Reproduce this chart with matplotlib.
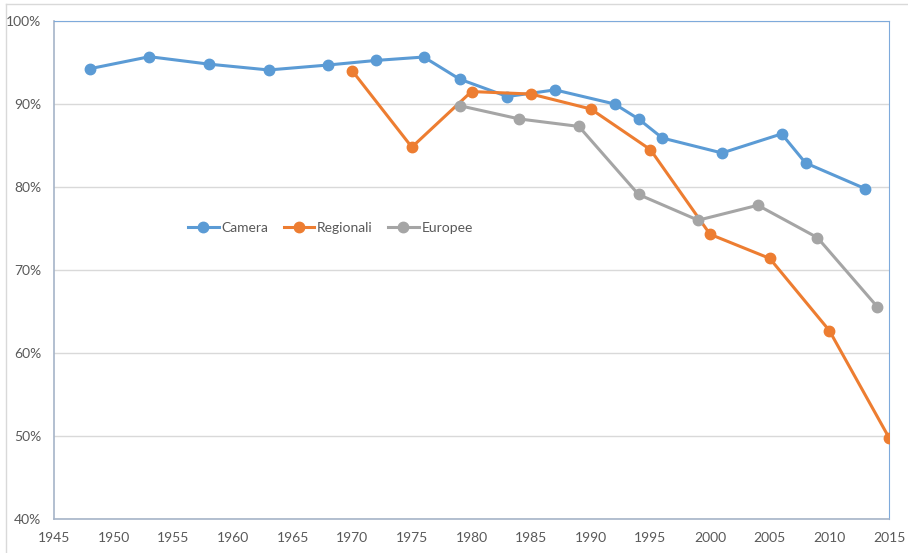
import matplotlib.pyplot as plt
from matplotlib.lines import Line2D
from matplotlib.ticker import FuncFormatter

plt.rcParams['font.family'] = ['Lato', 'DejaVu Sans']

# turnout (%) per election type
camera_years = [1948, 1953, 1958, 1963, 1968, 1972, 1976, 1979, 1983, 1987, 1992, 1994, 1996, 2001, 2006, 2008, 2013]
camera_vals = [94.25, 95.7, 94.8, 94.1, 94.7, 95.25, 95.66, 93.0, 90.9, 91.7, 90.0, 88.2, 85.9, 84.1, 86.4, 82.9, 79.8]

reg_years = [1970, 1975, 1980, 1985, 1990, 1995, 2000, 2005, 2010, 2015]
reg_vals = [94.0, 84.8, 91.5, 91.2, 89.4, 84.5, 74.3, 71.4, 62.7, 49.8]

eur_years = [1979, 1984, 1989, 1994, 1999, 2004, 2009, 2014]
eur_vals = [89.8, 88.2, 87.3, 79.1, 76.0, 77.8, 73.9, 65.6]

xticks = list(range(1945, 2016, 5))
yticks = [40, 50, 60, 70, 80, 90, 100]

fig = plt.figure(figsize=(9.08, 5.53), dpi=100)
ax = fig.add_axes([54/908, 34/553, 835/908, 498/553])

# light outer chart border (left/top visible)
fig.add_artist(Line2D([6/908, 6/908], [0, 1 - 4/553], color='#d9d9d9', lw=1))
fig.add_artist(Line2D([6/908, 1], [1 - 4/553, 1 - 4/553], color='#d9d9d9', lw=1))

ax.plot(camera_years, camera_vals, '-o', color='#5b9bd5', lw=2.2, ms=7.5, label='Camera', zorder=3)
ax.plot(reg_years, reg_vals, '-o', color='#ed7d31', lw=2.2, ms=7.5, label='Regionali', zorder=3)
ax.plot(eur_years, eur_vals, '-o', color='#a5a5a5', lw=2.2, ms=7.5, label='Europee', zorder=3)

ax.set_xlim(1945, 2015)
ax.set_ylim(40, 100)
ax.set_xticks(xticks)
ax.set_yticks(yticks)
ax.yaxis.set_major_formatter(FuncFormatter(lambda v, p: '%d%%' % v))
ax.grid(axis='y', color='#d9d9d9', lw=1)
ax.set_axisbelow(True)
ax.tick_params(length=0, labelsize=10, colors='#595959')
ax.tick_params(axis='x', pad=9)
ax.tick_params(axis='y', pad=9)

for s in ['top', 'right']:
    ax.spines[s].set_color('#7eaadb')
for s in ['left', 'bottom']:
    ax.spines[s].set_color('#a6b4c8')
    ax.spines[s].set_linewidth(1.2)

ax.legend(loc='center', bbox_to_anchor=(0.331, 0.584), ncol=3, frameon=False,
          fontsize=10, labelcolor='#595959', handlelength=2.2, handletextpad=0.2,
          columnspacing=1.1, markerscale=1.0)

fig.savefig('out.png', dpi=100)
